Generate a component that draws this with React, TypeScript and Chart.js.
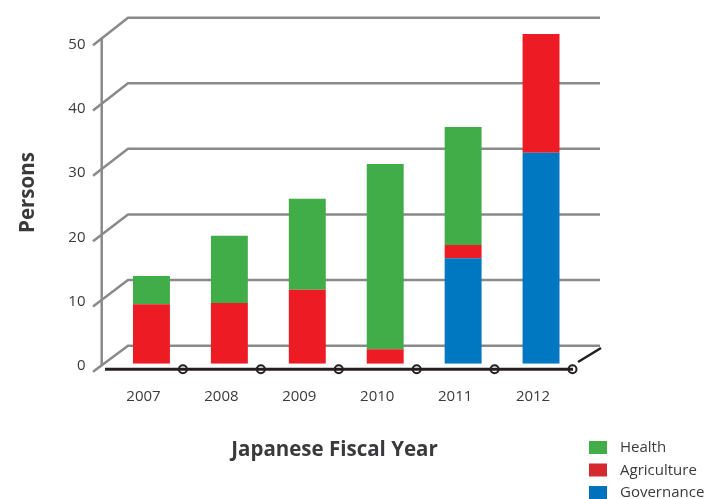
import React, { useEffect, useRef } from "react";
import { Chart, registerables } from "chart.js";

Chart.register(...registerables);

const years = ["2007", "2008", "2009", "2010", "2011", "2012"];
const governance = [0, 0, 0, 0, 16, 32];
const agriculture = [9, 9.2, 11.2, 2.2, 2, 18];
const health = [4.3, 10.2, 13.8, 28.1, 17.9, 0];
const yTicks = [0, 10, 20, 30, 40, 50];
const legendLabels = ["Health", "Agriculture", "Governance"];
const barColors = ["#41ad49", "#ed1c24", "#0077c1"];
const legendColors = ["#41ad49", "#d42a2f", "#0072bc"];
const xTitle = "Japanese Fiscal Year";
const yTitle = "Persons";

const FONT = '"Open Sans", "DejaVu Sans", sans-serif';
const TEXT = "#3a3a3c";
const GRID = "#8a8a8d";
const AXIS = "#231f20";

const decor = {
  id: "decor",
  beforeDatasetsDraw(chart: any) {
    const { ctx, chartArea: ca, scales } = chart;
    const y = scales.y;
    const px = (v: number) => y.getPixelForValue(v);
    const back = (v: number) => px(v * 0.995) - 18;
    const front = (v: number) => px(v * 0.99) + 8;
    const fx = ca.left - 19.5;
    const bx = ca.left + 15.5;
    const rx = ca.right + 20;
    ctx.save();
    ctx.strokeStyle = GRID;
    ctx.lineWidth = 2.5;
    ctx.lineJoin = "miter";
    ctx.lineCap = "butt";
    yTicks.forEach((v) => {
      ctx.beginPath();
      ctx.moveTo(fx, front(v));
      ctx.lineTo(bx, back(v));
      ctx.lineTo(rx, back(v));
      ctx.stroke();
    });
    const ax = ca.left - 10.8;
    const t = (ax - fx) / (bx - fx);
    const yTop = front(50) + t * (back(50) - front(50));
    const yBot = front(0) + t * (back(0) - front(0));
    ctx.beginPath();
    ctx.moveTo(ax, yTop);
    ctx.lineTo(ax, yBot + 1);
    ctx.stroke();
    ctx.restore();
  },
  afterDraw(chart: any) {
    const { ctx, chartArea: ca, scales } = chart;
    const y = scales.y;
    const x = scales.x;
    const px = (v: number) => y.getPixelForValue(v);
    const zero = px(0);
    ctx.save();
    ctx.fillStyle = TEXT;
    ctx.font = `15px ${FONT}`;
    ctx.textAlign = "right";
    ctx.textBaseline = "middle";
    yTicks.forEach((v) => {
      ctx.fillText(String(v), ca.left - 27, px(v * 0.975) + 2.3);
    });
    ctx.textAlign = "center";
    years.forEach((yr, i) => {
      ctx.fillText(yr, x.getPixelForValue(i) - 8, zero + 33);
    });
    const w = (ca.right - ca.left) / years.length;
    ctx.strokeStyle = AXIS;
    ctx.lineWidth = 3;
    ctx.beginPath();
    ctx.moveTo(ca.left - 7.5, zero + 5.6);
    ctx.lineTo(ca.right - 7, zero + 5.6);
    ctx.stroke();
    ctx.lineWidth = 2;
    years.forEach((_, i) => {
      const cx = ca.left + w * (i + 1) - 7.5;
      ctx.beginPath();
      ctx.arc(cx, zero + 5.6, 4, 0, Math.PI * 2);
      ctx.stroke();
    });
    ctx.lineWidth = 2.5;
    ctx.beginPath();
    ctx.moveTo(ca.right - 2, zero - 1.7);
    ctx.lineTo(ca.right + 21, zero - 15.7);
    ctx.stroke();
    ctx.fillStyle = TEXT;
    ctx.font = `bold 20.5px ${FONT}`;
    ctx.textAlign = "center";
    ctx.textBaseline = "middle";
    ctx.fillText(xTitle, 334.5, 450);
    ctx.save();
    ctx.translate(28, 192.5);
    ctx.rotate(-Math.PI / 2);
    ctx.fillText(yTitle, 0, 0);
    ctx.restore();
    ctx.font = `15px ${FONT}`;
    ctx.textAlign = "left";
    legendLabels.forEach((lab, i) => {
      const ly = 441 + i * 22.5;
      ctx.fillStyle = legendColors[i];
      ctx.fillRect(589, ly, 18, 13);
      ctx.fillStyle = TEXT;
      ctx.fillText(lab, 620, ly + 7);
    });
    ctx.restore();
  },
};

export default function App() {
  const ref = useRef<HTMLCanvasElement | null>(null);
  useEffect(() => {
    document.body.style.margin = "0";
    const canvas = ref.current;
    if (!canvas) return;
    const chart = new Chart(canvas, {
      type: "bar",
      data: {
        labels: years,
        datasets: [
          { label: "Governance", data: governance, backgroundColor: barColors[2] },
          { label: "Agriculture", data: agriculture, backgroundColor: barColors[1] },
          { label: "Health", data: health, backgroundColor: barColors[0] },
        ],
      },
      options: {
        animation: false,
        responsive: false,
        maintainAspectRatio: false,
        layout: { padding: { left: 112.5, right: 126, top: 34, bottom: 135.3 } },
        datasets: { bar: { categoryPercentage: 1, barPercentage: 0.474 } },
        plugins: { legend: { display: false }, tooltip: { enabled: false }, title: { display: false } },
        scales: {
          x: { stacked: true, display: false, offset: true },
          y: { stacked: true, display: false, min: 0, max: 50 },
        },
      },
      plugins: [decor],
    });
    return () => chart.destroy();
  }, []);
  return (
    <div style={{ width: 706, height: 499, background: "#fff" }}>
      <canvas ref={ref} width={706} height={499} style={{ display: "block" }} />
    </div>
  );
}
